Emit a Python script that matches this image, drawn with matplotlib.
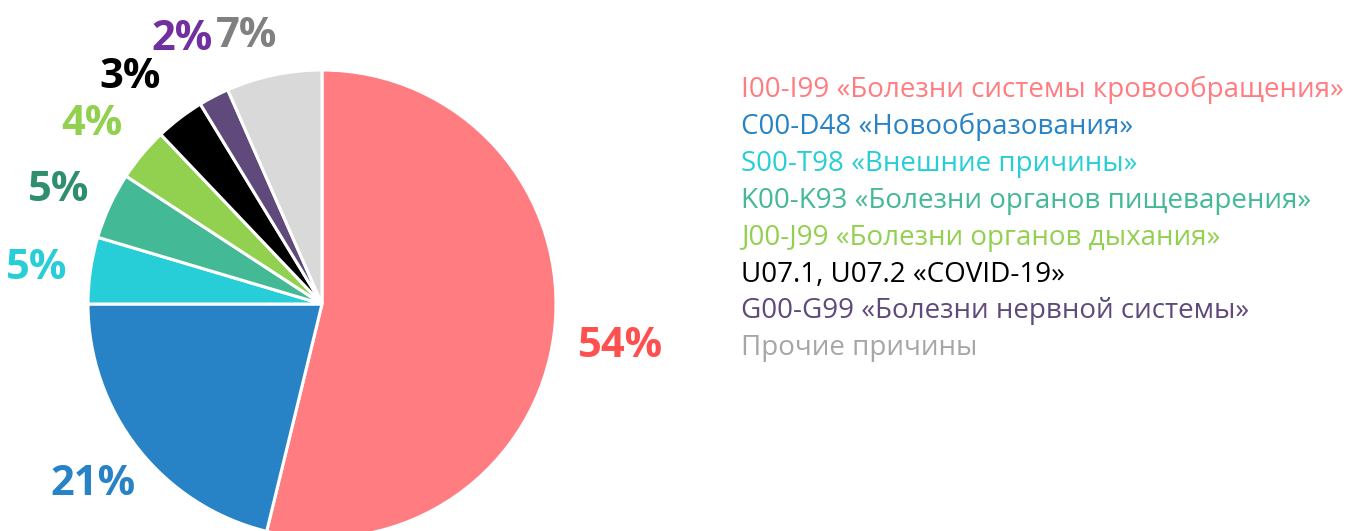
import numpy as np
import matplotlib
matplotlib.use('Agg')
import matplotlib.pyplot as plt

# --- Données ---
categories = [
    'I00-I99 «Болезни системы кровообращения»',
    'C00-D48 «Новообразования»',
    'S00-T98 «Внешние причины»',
    'K00-K93 «Болезни органов пищеварения»',
    'J00-J99 «Болезни органов дыхания»',
    'U07.1, U07.2 «COVID-19»',
    'G00-G99 «Болезни нервной системы»',
    'Прочие причины',
]
parts = [53.8, 21.2, 4.6, 4.6, 3.7, 3.4, 2.1, 6.6]

# --- Styles ---
wedge_colors = ['#FF7C80', '#2783C6', '#27CED7', '#43B995', '#92D050', '#000000', '#604A7B', '#D9D9D9']
label_colors = ['#FF5050', '#2783C6', '#27CED7', '#2E8E6E', '#92D050', '#000000', '#7030A0', '#808080']
legend_colors = ['#FF7C80', '#2783C6', '#27CED7', '#43B995', '#92D050', '#000000', '#604A7B', '#A6A6A6']
# distance radiale et décalage angulaire (degrés) de chaque étiquette
label_dist = [1.285, 1.235, 1.23, 1.235, 1.26, 1.285, 1.295, 1.205]
label_shift = [-0.5, -0.6, 0.3, 0.7, 1.1, 2.3, -0.1, 3.6]

W, H = 1364, 531
fig = plt.figure(figsize=(W / 100, H / 100), dpi=100)

# axe du camembert : centre (322, 304) px, rayon 234 px
cx, cy, R = 322, H - 304, 234
ax_w = 700
ax = fig.add_axes([0, 0, ax_w / W, 1])

wedges, _ = ax.pie(parts, colors=wedge_colors, startangle=90, counterclock=False,
                   wedgeprops=dict(edgecolor='white', linewidth=2.2))
ax.set_aspect('auto')
ax.set_xlim(-cx / R, (ax_w - cx) / R)
ax.set_ylim(-cy / R, (H - cy) / R)
ax.axis('off')

total = sum(parts)
cap_half = 15 / R  # demi-hauteur des chiffres, pour centrer visuellement
for w, val, col, d, s in zip(wedges, parts, label_colors, label_dist, label_shift):
    ang = np.deg2rad((w.theta1 + w.theta2) / 2 + s)
    ax.text(d * np.cos(ang), d * np.sin(ang) - cap_half, f'{val / total * 100:.0f}%',
            ha='center', va='baseline', color=col, fontsize=30,
            fontweight='bold', family='Open Sans')

# légende en texte coloré
y0, step = 97, 36.9
for i, (txt, col) in enumerate(zip(categories, legend_colors)):
    fig.text(741 / W, 1 - (y0 + i * step) / H, txt, color=col, fontsize=20,
             family='Open Sans', ha='left', va='baseline')

plt.savefig('out.png', dpi=100)
plt.close()
